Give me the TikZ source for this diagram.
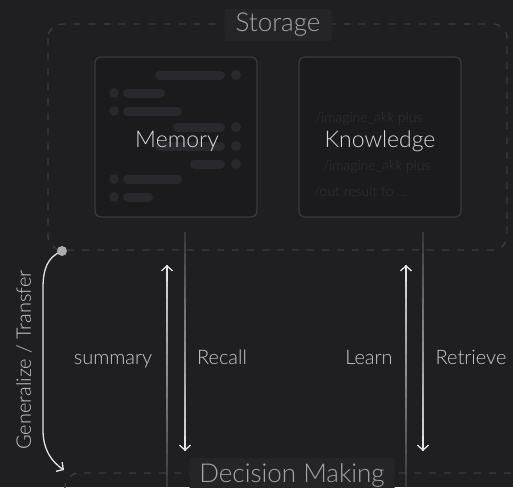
\documentclass[tikz,border=0pt]{standalone}
\usepackage{fontspec}
\setmainfont{Lato Light}
\usetikzlibrary{arrows.meta}
\usetikzlibrary{calc}
\definecolor{bgcol}{HTML}{1F1F22}
\definecolor{boxfill}{HTML}{1B1B1E}
\definecolor{boxline}{HTML}{3A3A3E}
\definecolor{dashcol}{HTML}{3A3C40}
\definecolor{tagfill}{HTML}{252528}
\definecolor{ghost}{HTML}{29292D}
\definecolor{ghosttext}{HTML}{333337}
\definecolor{txtcol}{HTML}{DADADC}
\definecolor{labcol}{HTML}{A6A6AA}
\definecolor{dotcol}{HTML}{ABABAE}
\tikzset{%
	store/.style={rounded corners=6pt,draw=boxline,line width=1.3pt,fill=boxfill,minimum width=162pt,minimum height=160pt},
	title/.style={text=txtcol,inner sep=0pt,font=\fontsize{23}{23}\selectfont},
	tag/.style={fill=tagfill,text=labcol,inner sep=0pt,rounded corners=2pt,font=\fontsize{26}{26}\selectfont},
	flowlab/.style={text=txtcol!92!bgcol,inner sep=0pt,font=\fontsize{20}{20}\selectfont},
	ghostbar/.style={line width=9pt,line cap=round,draw=ghost},
	ghostline/.style={text=ghosttext,inner sep=0pt,anchor=west,font=\fontsize{14}{14}\selectfont},
	dashbox/.style={dash pattern=on 7pt off 8pt,draw=dashcol,line width=1.3pt},
	flowarrow/.style={-{Straight Barb[length=5pt,width=11pt]},line width=1.3pt,draw=white!88!bgcol},
}
% fading arrow from tail #1 to head #2
\newcommand{\fadearrow}[2]{%
	\foreach \i in {0,...,19}{%
		\pgfmathsetmacro{\mixval}{12+\i*3.8}
		\draw[line width=1.3pt,draw=white!\mixval!bgcol] ($(#1)!{\i/20}!(#2)$) -- ($(#1)!{(\i+1)/20}!(#2)$);
	}
	\draw[flowarrow] ($(#1)!0.93!(#2)$) -- (#2);
}

\begin{document}
\begin{tikzpicture}[x=1pt,y=-1pt]
	\useasboundingbox (0,0) rectangle (513,487);
	\clip (0,0) rectangle (513,487);
	\fill[bgcol] (0,0) rectangle (513,487);
	
	%storage area
	\draw[dashbox,rounded corners=14pt] (48,24) rectangle (507,250);
	\node[tag,minimum width=107pt,minimum height=32pt,anchor=base] (storage) at (278,32) {Storage};
	
	%decision making area
	\draw[dashbox,rounded corners=14pt] (65,520) -- (65,473) -- (540,473);
	\node[tag,minimum width=205pt,minimum height=34pt,anchor=base] (decision) at (292,482) {Decision Making};
	
	%memory
	\node[store] (memory) at (176,137) {};
	\foreach \y/\xa in {75/155,127/173,146/155,164/190}{
		\draw[ghostbar] (\xa+4.5,\y) -- (220.5,\y);
		\fill[ghost] (236,\y) circle (5pt);
	}
	\foreach \y/\xb in {93/165,111/182,179/182,197/153}{
		\draw[ghostbar] (127.5,\y) -- (\xb-4.5,\y);
		\fill[ghost] (114,\y) circle (5pt);
	}
	\node[title,anchor=base] (memtitle) at (177,147) {Memory};
	
	%knowledge
	\node[store] (knowledge) at (380,137) {};
	\node[ghostline] (kline1) at (315,119) {/imagine\_akk plus};
	\node[ghostline] (kline2) at (323,167) {/imagine\_akk plus};
	\node[ghostline] (kline3) at (314,192) {/out result to ...};
	\node[title,anchor=base] (knowtitle) at (380,147) {Knowledge};
	
	%arrows
	\coordinate (recall-tail) at (185,232);
	\coordinate (recall-head) at (185,451);
	\coordinate (summary-tail) at (167,487);
	\coordinate (summary-head) at (167,265);
	\coordinate (retrieve-tail) at (423,232);
	\coordinate (retrieve-head) at (423,451);
	\coordinate (learn-tail) at (406,487);
	\coordinate (learn-head) at (406,265);
	\fadearrow{summary-tail}{summary-head}
	\fadearrow{recall-tail}{recall-head}
	\fadearrow{learn-tail}{learn-head}
	\fadearrow{retrieve-tail}{retrieve-head}
	
	\node[flowlab,anchor=base] (summary) at (113,364) {summary};
	\node[flowlab,anchor=base] (recall) at (222,364) {Recall};
	\node[flowlab,anchor=base] (learn) at (369,364) {Learn};
	\node[flowlab,anchor=base] (retrieve) at (471,364) {Retrieve};
	
	%generalize / transfer
	\coordinate (gen-start) at (62,251);
	\coordinate (gen-end) at (64,470);
	\draw[flowarrow] (gen-start) .. controls (47,257) and (43,270) .. (43,288) -- (43,430) .. controls (43,450) and (52,462) .. (gen-end);
	\fill[dotcol] (gen-start) circle (5pt);
	\node[flowlab,rotate=90] (gentitle) at (24,360) {Generalize / Transfer};
\end{tikzpicture}
\end{document}
